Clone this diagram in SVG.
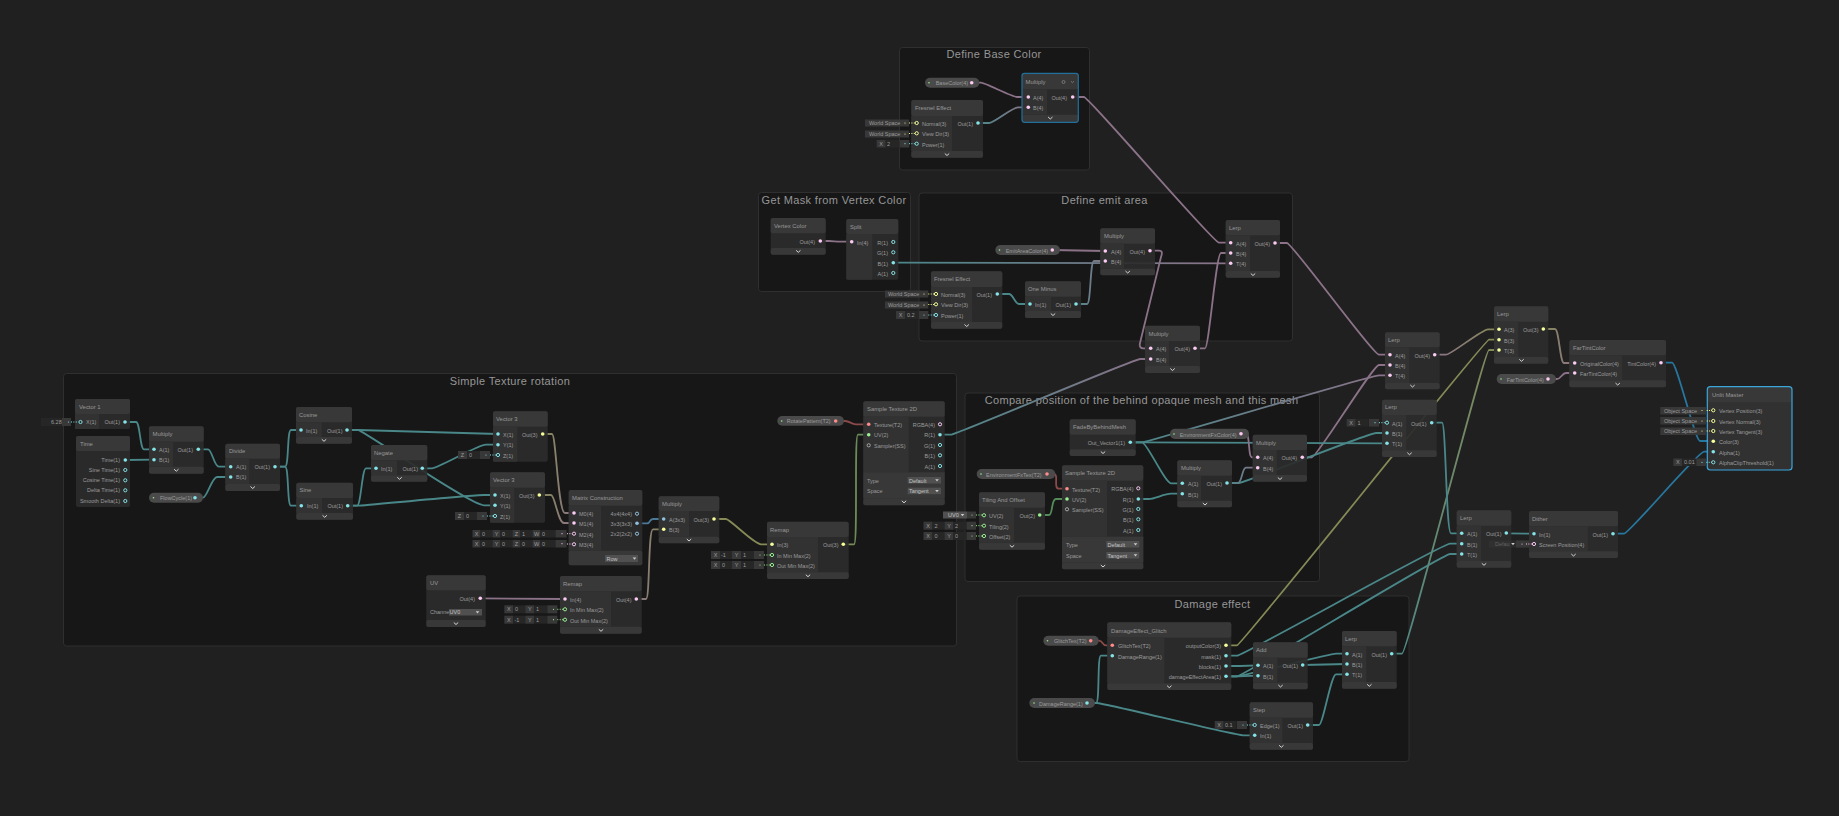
<svg xmlns="http://www.w3.org/2000/svg" width="1839" height="816" viewBox="0 0 1839 816">
<defs>
<style>
text{font-family:"Liberation Sans",Arial,sans-serif;font-size:5.5px;fill:#9c9c9c}
.r{text-anchor:end}
.c{text-anchor:middle}
.ti{font-size:5.9px;fill:#999}
.gt{font-size:11px;fill:#969696;text-anchor:middle;letter-spacing:.35px}
.wh{fill:#c4c4c4}
.grp{fill:#171717;stroke:#2f2f2f;stroke-width:1}
.b{fill:#2c2c2c;fill-opacity:.93}
.h{fill:#393939;fill-opacity:.93}
.i{fill:#333;fill-opacity:.93}
.f{fill:#393939;fill-opacity:.93}
.sel{fill:none;stroke:#236f9c;stroke-width:1.2}
.sel2{fill:none;stroke:#3ba6dc;stroke-width:1.2}
.pill{fill:#4a4a4a}
.k{fill:#383838}
.d{fill:#262626}
.dd{fill:#505050}
.e{fill:none;stroke-width:1.8;stroke-linejoin:round;stroke-linecap:round}
.te{stroke:#4a8789}.pk{stroke:#8b7288}.ol{stroke:#868a56}.gr{stroke:#558b5a}.rd{stroke:#8a4a4a}.bl{stroke:#4a7a98}.sb{stroke:#27779f}
.tp{stroke:url(#gtp)}.op{stroke:url(#gop)}.po{stroke:url(#gpo)}.og{stroke:url(#gog)}.to{stroke:url(#gto)}
.p1{fill:#84e4e7}.p2{fill:#9aef92}.p3{fill:#f6ff9a}.p4{fill:#fbcbf4}.pm{fill:#8fc1df}.pt{fill:#ff8b8b}
.q1,.q2,.q3,.q4,.qm,.qs{fill:#2a2a2a;stroke-width:1}
.q1{stroke:#84e4e7}.q2{stroke:#9aef92}.q3{stroke:#f6ff9a}.q4{stroke:#fbcbf4}.qm{stroke:#8fc1df}.qs{stroke:#aaa}
.dt{fill:none;stroke-width:1;stroke-dasharray:1 1.4}
.d1{stroke:#84e4e7}.d2{stroke:#9aef92}.d3{stroke:#f6ff9a}.d4{stroke:#fbcbf4}
.chev{fill:none;stroke:#d8d8d8;stroke-width:1}
</style>
<linearGradient id="gtp"><stop offset="0" stop-color="#4a8789"/><stop offset="1" stop-color="#8b7288"/></linearGradient>
<linearGradient id="gop"><stop offset="0" stop-color="#868a56"/><stop offset="1" stop-color="#8b7288"/></linearGradient>
<linearGradient id="gpo"><stop offset="0" stop-color="#8b7288"/><stop offset="1" stop-color="#868a56"/></linearGradient>
<linearGradient id="gog"><stop offset="0" stop-color="#868a56"/><stop offset="1" stop-color="#558b5a"/></linearGradient>
<linearGradient id="gto"><stop offset="0" stop-color="#4a8789"/><stop offset="1" stop-color="#868a56"/></linearGradient>
<path id="ch" class="chev" d="M-2.2-1 0 1 2.2-1"/>
<path id="tri" d="M-1.8-1H1.8L0 1.2Z" fill="#ccc"/>
</defs>
<rect width="1839" height="816" fill="#202020"/>
<g id="groups">
<g id="g-rotation"><rect class="grp" x="63.5" y="373.5" width="893" height="272.5" rx="3"/><text class="gt" x="510" y="384.5">Simple Texture rotation</text></g>
<g id="g-base"><rect class="grp" x="899.5" y="47.5" width="190" height="122.5" rx="3"/><text class="gt" x="994" y="58">Define Base Color</text></g>
<g id="g-mask"><rect class="grp" x="758.5" y="192.5" width="152" height="99" rx="3"/><text class="gt" x="834" y="203.5">Get Mask from Vertex Color</text></g>
<g id="g-emit"><rect class="grp" x="919" y="193" width="373.5" height="148" rx="3"/><text class="gt" x="1104.5" y="204">Define emit area</text></g>
<g id="g-compare"><rect class="grp" x="965" y="393" width="354.5" height="188.5" rx="3"/><text class="gt" x="1141.5" y="403.5">Compare position of the behind opaque mesh and this mesh</text></g>
<g id="g-damage"><rect class="grp" x="1017" y="596" width="392" height="165.5" rx="3"/><text class="gt" x="1212.5" y="608">Damage effect</text></g>
</g>
<g id="connectors">
<path class="e te" d="M125 422H136C140 422 140 449.3 144 449.3H154"/>
<path class="e te" d="M125.3 460L154 459.7"/>
<path class="e te" d="M198.3 449.3H208C212 449.3 214 466.7 219 466.7H230.7"/>
<path class="e te" d="M195 497.7H203C207 497.7 212 477 217 477H230.7"/>
<path class="e te" d="M275 466.7H285C289 466.7 287 430 291 430H301"/>
<path class="e te" d="M275 466.7H285C289 466.7 287 505.7 291 505.7H301.3"/>
<path class="e te" d="M347 430H358C363 430 400 431 498 434"/>
<path class="e te" d="M347 430H358C363 430 470 505.3 484 505.3H495"/>
<path class="e te" d="M347.7 505.7H357C361 505.7 362 468.3 366 468.3H376"/>
<path class="e te" d="M347.7 505.7H358C364 505.7 470 495 484 495H495"/>
<path class="e te" d="M422.3 468.3H432C438 468.3 478 444.7 486 444.7H498"/>
<path class="e op" d="M542.7 434H552C556 434 558 513 565 513H574"/>
<path class="e op" d="M539.3 495H551C555 495 558 523 564 523H574"/>
<path class="e bl" d="M637 523.3H647C651 523.3 649 519 653 519H663.7"/>
<path class="e pk" d="M480.3 598.3L565 599"/>
<path class="e po" d="M636.3 599H646C650 599 648 529.3 653 529.3H663.7"/>
<path class="e ol" d="M714 519H726C730 519 754 544.3 761 544.3H772"/>
<path class="e og" d="M843.3 544.3H854C858 544.3 854 434.7 858 434.7H868.7"/>
<path class="e rd" d="M835.7 421H845C850 421 851 424.3 856 424.3H868.7"/>
<path class="e tp" d="M940 434.7H951C956 434.7 1134 359 1140 359H1150.7"/>
<path class="e pk" d="M1150 250.7H1159C1163 250.7 1162 254 1161 257L1140 343C1139 347 1141 348.3 1143 348.3H1150.7"/>
<path class="e pk" d="M1195 348.3H1205C1209 348.3 1216 253 1221 253H1230.7"/>
<path class="e tp" d="M893.3 262.7L1230.7 263.3"/>
<path class="e te" d="M997.3 294H1009C1013 294 1015 304 1019 304H1030"/>
<path class="e tp" d="M1076 304H1087C1091 304 1090 261 1094 261H1105.3"/>
<path class="e pk" d="M1052.3 250L1105.3 251"/>
<path class="e pk" d="M971.7 82.7H981C985 82.7 1012 97 1017 97H1028.3"/>
<path class="e tp" d="M978 123H989C994 123 1012 107.3 1018 107.3H1028.3"/>
<path class="e pk" d="M1072.7 97H1084C1089 97 1213 242.7 1219 242.7H1230.7"/>
<path class="e pk" d="M820.3 241H829C833 241 836 241.7 841 241.7H851.7"/>
<path class="e pk" d="M1275 243H1287C1292 243 1373 354.7 1379 354.7H1390"/>
<path class="e pk" d="M1302.3 457.3H1312C1317 457.3 1373 365 1379 365H1390"/>
<path class="e tp" d="M1130.3 442.3H1142C1148 442.3 1370 375.3 1379 375.3H1390"/>
<path class="e te" d="M1130.3 442.3H1142L1387 443.3"/>
<path class="e te" d="M1130.3 442.3H1142C1147 442.3 1165 483.3 1171 483.3H1182.3"/>
<path class="e te" d="M1227 483H1239C1245 483 1368 433 1376 433H1387"/>
<path class="e tp" d="M1227 483H1238C1242 483 1242 467.7 1246 467.7H1257.7"/>
<path class="e te" d="M1138.3 499H1149C1154 499 1165 493.7 1171 493.7H1182.3"/>
<path class="e pk" d="M1241 433.7H1246C1250 433.7 1248 457.3 1252 457.3H1257.7"/>
<path class="e rd" d="M1047 474H1054C1059 474 1053 488.7 1059 488.7H1067"/>
<path class="e gr" d="M1039.7 515H1049C1053 515 1051 499 1056 499H1067"/>
<path class="e rd" d="M1090.7 640.7H1099C1103 640.7 1102 645.3 1106 645.3H1112.3"/>
<path class="e te" d="M1087 703H1096C1100 703 1097 655.7 1101 655.7H1112.3"/>
<path class="e te" d="M1087 703H1097C1103 703 1235 735.3 1243 735.3H1254.7"/>
<path class="e ol" d="M1226 645.3H1237C1242 645.3 1484 339.7 1489 339.7H1499"/>
<path class="e te" d="M1226 655.7H1237C1243 655.7 1442 543.7 1450 543.7H1461.7"/>
<path class="e te" d="M1226 676.3H1237C1243 676.3 1442 554 1450 554H1461.7"/>
<path class="e te" d="M1226 666H1240L1258 665.3"/>
<path class="e te" d="M1226 676.3H1238L1258 675.7"/>
<path class="e te" d="M1226 676.3H1237C1242 676.3 1330 653.7 1336 653.7H1347"/>
<path class="e te" d="M1302.7 665L1347 664"/>
<path class="e te" d="M1307.7 725H1319C1323 725 1331 674.3 1336 674.3H1347"/>
<path class="e to" d="M1391.7 653.7H1402C1407 653.7 1484 350 1489 350H1499"/>
<path class="e po" d="M1434.7 354.7H1446C1451 354.7 1482 329.3 1488 329.3H1499"/>
<path class="e op" d="M1543.3 329H1555C1559 329 1560 363 1564 363H1574.7"/>
<path class="e pk" d="M1548 379H1557C1561 379 1562 373 1566 373H1574.7"/>
<path class="e sb" d="M1661 362.7H1672C1677 362.7 1695 441 1700 441H1713.3"/>
<path class="e sb" d="M1613 533.7H1624C1629 533.7 1698 451.7 1704 451.7H1713.3"/>
<path class="e te" d="M1431.7 422.7H1442C1446 422.7 1446 533.3 1451 533.3H1461.7"/>
<path class="e te" d="M1506.3 533.3L1534 533.7"/>
</g>
<g id="nodes">
<g id="vector1"><rect class="b" x="75" y="399" width="55" height="30" rx="2"/><rect class="h" x="75" y="399" width="55" height="15" rx="2"/><rect class="i" x="75" y="414" width="24" height="15"/><text class="ti" x="79" y="408.5">Vector 1</text><circle class="q1" cx="80.5" cy="422" r="1.6"/><text x="86" y="424">X(1)</text><text class="r" x="120" y="424">Out(1)</text><circle class="p1" cx="125" cy="422" r="1.8"/>
<rect class="d" x="41" y="418" width="21" height="8"/><text x="51" y="424">6.28</text><rect class="k" x="62" y="418" width="9" height="8"/><circle class="p1" cx="68.5" cy="422" r=".6"/><path class="dt d1" d="M71 422H78"/></g>
<g id="time"><rect class="b" x="76" y="436" width="54" height="71" rx="2"/><rect class="h" x="76" y="436" width="54" height="15" rx="2"/><text class="ti" x="80" y="445.5">Time</text>
<text class="r" x="120" y="462">Time(1)</text><circle class="p1" cx="125.3" cy="460" r="1.8"/><text class="r" x="120" y="472">Sine Time(1)</text><circle class="q1" cx="125.3" cy="470" r="1.6"/><text class="r" x="120" y="482.3">Cosine Time(1)</text><circle class="q1" cx="125.3" cy="480.3" r="1.6"/><text class="r" x="120" y="492.3">Delta Time(1)</text><circle class="q1" cx="125.3" cy="490.3" r="1.6"/><text class="r" x="120" y="503">Smooth Delta(1)</text><circle class="q1" cx="125.3" cy="501" r="1.6"/></g>
<g id="multiply1"><rect class="b" x="149" y="426.3" width="54.7" height="47.4" rx="2"/><rect class="h" x="149" y="426.3" width="54.7" height="15.4" rx="2"/><rect class="i" x="149" y="441.7" width="24" height="25"/><rect class="f" x="149" y="466.7" width="54.7" height="7" rx="2"/><text class="ti" x="152.5" y="436">Multiply</text><circle class="p1" cx="154" cy="449.3" r="1.8"/><text x="159" y="451.5">A(1)</text><circle class="p1" cx="154" cy="459.7" r="1.8"/><text x="159" y="461.8">B(1)</text><text class="r" x="193" y="451.5">Out(1)</text><circle class="p1" cx="198.3" cy="449.3" r="1.8"/><use href="#ch" x="176.3" y="470.2"/></g>
<g id="flowcycle"><rect class="pill" x="149" y="492.7" width="54" height="10" rx="5"/><circle class="p2" cx="153.5" cy="497.7" r=".8"/><text x="160" y="499.8">FlowCycle(1)</text><circle class="p1" cx="195" cy="497.7" r="1.8"/></g>
<g id="divide"><rect class="b" x="225.3" y="443.7" width="54.7" height="47.3" rx="2"/><rect class="h" x="225.3" y="443.7" width="54.7" height="15" rx="2"/><rect class="i" x="225.3" y="458.7" width="24" height="25.3"/><rect class="f" x="225.3" y="484" width="54.7" height="7" rx="2"/><text class="ti" x="229" y="453">Divide</text><circle class="p1" cx="230.7" cy="466.7" r="1.8"/><text x="236" y="469">A(1)</text><circle class="p1" cx="230.7" cy="477" r="1.8"/><text x="236" y="479">B(1)</text><text class="r" x="270" y="469">Out(1)</text><circle class="p1" cx="275" cy="466.7" r="1.8"/><use href="#ch" x="252.7" y="487.5"/></g>
<g id="cosine"><rect class="b" x="296" y="407" width="56" height="36.7" rx="2"/><rect class="h" x="296" y="407" width="56" height="15.3" rx="2"/><rect class="i" x="296" y="422.3" width="25.7" height="14.7"/><rect class="f" x="296" y="437" width="56" height="6.7" rx="2"/><text class="ti" x="299" y="417">Cosine</text><circle class="p1" cx="301" cy="430" r="1.8"/><text x="306" y="433">In(1)</text><text class="r" x="342.5" y="433">Out(1)</text><circle class="p1" cx="347" cy="430" r="1.8"/><use href="#ch" x="324" y="440.3"/></g>
<g id="sine"><rect class="b" x="296.3" y="482.7" width="56.7" height="37" rx="2"/><rect class="h" x="296.3" y="482.7" width="56.7" height="15.3" rx="2"/><rect class="i" x="296.3" y="498" width="25.7" height="15"/><rect class="f" x="296.3" y="513" width="56.7" height="6.7" rx="2"/><text class="ti" x="299.5" y="492">Sine</text><circle class="p1" cx="301.3" cy="505.7" r="1.8"/><text x="307" y="508">In(1)</text><text class="r" x="343" y="508">Out(1)</text><circle class="p1" cx="347.7" cy="505.7" r="1.8"/><use href="#ch" x="324.7" y="516.3"/></g>
<g id="negate"><rect class="b" x="371" y="445" width="56.3" height="36.7" rx="2"/><rect class="h" x="371" y="445" width="56.3" height="15.3" rx="2"/><rect class="i" x="371" y="460.3" width="26" height="15"/><rect class="f" x="371" y="475.3" width="56.3" height="6.4" rx="2"/><text class="ti" x="374" y="455">Negate</text><circle class="p1" cx="376" cy="468.3" r="1.8"/><text x="381" y="471">In(1)</text><text class="r" x="418" y="471">Out(1)</text><circle class="p1" cx="422.3" cy="468.3" r="1.8"/><use href="#ch" x="399.5" y="478.3"/></g>
<g id="vector3a"><rect class="b" x="493" y="411.3" width="54.7" height="50.4" rx="2"/><rect class="h" x="493" y="411.3" width="54.7" height="15.4" rx="2"/><rect class="i" x="493" y="426.7" width="24.3" height="35" rx="1"/><text class="ti" x="496" y="421">Vector 3</text><circle class="p1" cx="498" cy="434" r="1.8"/><text x="503" y="437">X(1)</text><circle class="p1" cx="498" cy="444.7" r="1.8"/><text x="503" y="447">Y(1)</text><circle class="q1" cx="498" cy="455" r="1.6"/><text x="503" y="458">Z(1)</text><text class="r" x="537.5" y="437">Out(3)</text><circle class="p3" cx="542.7" cy="434" r="1.8"/>
<rect class="k" x="458" y="451" width="9" height="8"/><text class="c" x="462.5" y="457">Z</text><rect class="d" x="467" y="451" width="13" height="8"/><text x="469" y="457">0</text><rect class="k" x="480" y="451" width="10" height="8"/><circle class="p1" cx="486" cy="455" r=".6"/><path class="dt d1" d="M490 455H496"/></g>
<g id="vector3b"><rect class="b" x="490" y="472.3" width="55" height="50.4" rx="2"/><rect class="h" x="490" y="472.3" width="55" height="15.4" rx="2"/><rect class="i" x="490" y="487.7" width="24.3" height="35" rx="1"/><text class="ti" x="493" y="482">Vector 3</text><circle class="p1" cx="495" cy="495" r="1.8"/><text x="500" y="498">X(1)</text><circle class="p1" cx="495" cy="505.3" r="1.8"/><text x="500" y="508">Y(1)</text><circle class="q1" cx="495" cy="516" r="1.6"/><text x="500" y="519">Z(1)</text><text class="r" x="534.5" y="498">Out(3)</text><circle class="p3" cx="539.3" cy="495" r="1.8"/>
<rect class="k" x="455" y="512" width="9" height="8"/><text class="c" x="459.5" y="518">Z</text><rect class="d" x="464" y="512" width="13" height="8"/><text x="466" y="518">0</text><rect class="k" x="477" y="512" width="10" height="8"/><circle class="p1" cx="483" cy="516" r=".6"/><path class="dt d1" d="M487 516H493"/></g>
<g id="matrix"><rect class="b" x="568.7" y="490" width="73.6" height="75.3" rx="2"/><rect class="h" x="568.7" y="490" width="73.6" height="15.7" rx="2"/><rect class="i" x="568.7" y="505.7" width="32.3" height="45"/><rect class="f" x="568.7" y="550.7" width="73.6" height="14.6" rx="2"/><text class="ti" x="572" y="500">Matrix Construction</text>
<circle class="p4" cx="574" cy="513" r="1.8"/><text x="579" y="516">M0(4)</text><circle class="p4" cx="574" cy="523" r="1.8"/><text x="579" y="526">M1(4)</text><circle class="q4" cx="574" cy="533.7" r="1.6"/><text x="579" y="536.5">M2(4)</text><circle class="q4" cx="574" cy="544.3" r="1.6"/><text x="579" y="547">M3(4)</text>
<text class="r" x="632" y="516">4x4(4x4)</text><circle class="qm" cx="637" cy="513.7" r="1.6"/><text class="r" x="632" y="526">3x3(3x3)</text><circle class="pm" cx="637" cy="523.3" r="1.8"/><text class="r" x="632" y="536">2x2(2x2)</text><circle class="qm" cx="637" cy="533.7" r="1.6"/>
<rect class="dd" x="605" y="555" width="33" height="7"/><text class="wh" x="606.5" y="560.5">Row</text><use href="#tri" x="634.5" y="558.5"/>
<g id="m2-inputs"><rect class="k" x="472.5" y="530" width="8" height="7.5"/><text class="c" x="476.5" y="535.8">X</text><rect class="d" x="480.5" y="530" width="12" height="7.5"/><text x="482" y="535.8">0</text><rect class="k" x="492.5" y="530" width="8" height="7.5"/><text class="c" x="496.5" y="535.8">Y</text><rect class="d" x="500.5" y="530" width="12" height="7.5"/><text x="502" y="535.8">0</text><rect class="k" x="512.5" y="530" width="8" height="7.5"/><text class="c" x="516.5" y="535.8">Z</text><rect class="d" x="520.5" y="530" width="12" height="7.5"/><text x="522" y="535.8">1</text><rect class="k" x="532.5" y="530" width="8" height="7.5"/><text class="c" x="536.5" y="535.8">W</text><rect class="d" x="540.5" y="530" width="15" height="7.5"/><text x="542" y="535.8">0</text><rect class="k" x="555.5" y="530" width="11" height="7.5"/><circle class="p4" cx="562" cy="533.7" r=".6"/><path class="dt d4" d="M567 533.7H572"/></g>
<g id="m3-inputs"><rect class="k" x="472.5" y="540" width="8" height="7.5"/><text class="c" x="476.5" y="545.8">X</text><rect class="d" x="480.5" y="540" width="12" height="7.5"/><text x="482" y="545.8">0</text><rect class="k" x="492.5" y="540" width="8" height="7.5"/><text class="c" x="496.5" y="545.8">Y</text><rect class="d" x="500.5" y="540" width="12" height="7.5"/><text x="502" y="545.8">0</text><rect class="k" x="512.5" y="540" width="8" height="7.5"/><text class="c" x="516.5" y="545.8">Z</text><rect class="d" x="520.5" y="540" width="12" height="7.5"/><text x="522" y="545.8">0</text><rect class="k" x="532.5" y="540" width="8" height="7.5"/><text class="c" x="536.5" y="545.8">W</text><rect class="d" x="540.5" y="540" width="15" height="7.5"/><text x="542" y="545.8">0</text><rect class="k" x="555.5" y="540" width="11" height="7.5"/><circle class="p4" cx="562" cy="543.7" r=".6"/><path class="dt d4" d="M567 544H572"/></g></g>
<g id="multiply2"><rect class="b" x="658.7" y="496.3" width="60.6" height="47" rx="2"/><rect class="h" x="658.7" y="496.3" width="60.6" height="14.7" rx="2"/><rect class="i" x="658.7" y="511" width="30.3" height="25.7"/><rect class="f" x="658.7" y="536.7" width="60.6" height="6.6" rx="2"/><text class="ti" x="662" y="506">Multiply</text><circle class="pm" cx="663.7" cy="519" r="1.8"/><text x="669" y="522">A(3x3)</text><circle class="p3" cx="663.7" cy="529.3" r="1.8"/><text x="669" y="532">B(3)</text><text class="r" x="709" y="522">Out(3)</text><circle class="p3" cx="714" cy="519" r="1.8"/><use href="#ch" x="689" y="540"/></g>
<g id="remap2"><rect class="b" x="767" y="521.7" width="81.7" height="57.3" rx="2"/><rect class="h" x="767" y="521.7" width="81.7" height="15.3" rx="2"/><rect class="i" x="767" y="537" width="51" height="35.3"/><rect class="f" x="767" y="572.3" width="81.7" height="6.7" rx="2"/><text class="ti" x="770" y="531.5">Remap</text><circle class="p3" cx="772" cy="544.3" r="1.8"/><text x="777" y="547">In(3)</text><circle class="q2" cx="772" cy="555" r="1.6"/><text x="777" y="557.8">In Min Max(2)</text><circle class="q2" cx="772" cy="565" r="1.6"/><text x="777" y="568">Out Min Max(2)</text><text class="r" x="838.5" y="547">Out(3)</text><circle class="p3" cx="843.3" cy="544.3" r="1.8"/><use href="#ch" x="808" y="575.7"/>
<rect class="k" x="711" y="551" width="9" height="8"/><text class="c" x="715.5" y="557">X</text><rect class="d" x="720" y="551" width="12" height="8"/><text x="721" y="557">-1</text><rect class="k" x="732" y="551" width="9" height="8"/><text class="c" x="736.5" y="557">Y</text><rect class="d" x="741" y="551" width="13" height="8"/><text x="743" y="557">1</text><rect class="k" x="754" y="551" width="10" height="8"/><circle class="p2" cx="760" cy="555" r=".6"/><path class="dt d2" d="M764 555H770"/>
<rect class="k" x="711" y="561" width="9" height="8"/><text class="c" x="715.5" y="567">X</text><rect class="d" x="720" y="561" width="12" height="8"/><text x="722" y="567">0</text><rect class="k" x="732" y="561" width="9" height="8"/><text class="c" x="736.5" y="567">Y</text><rect class="d" x="741" y="561" width="13" height="8"/><text x="743" y="567">1</text><rect class="k" x="754" y="561" width="10" height="8"/><circle class="p2" cx="760" cy="565" r=".6"/><path class="dt d2" d="M764 565H770"/></g>
<g id="uv"><rect class="b" x="426.3" y="575.3" width="59.4" height="51.7" rx="2"/><rect class="h" x="426.3" y="575.3" width="59.4" height="15" rx="2"/><rect class="f" x="426.3" y="620" width="59.4" height="7" rx="2"/><text class="ti" x="430" y="585">UV</text><text class="r" x="475" y="601">Out(4)</text><circle class="p4" cx="480.3" cy="598.3" r="1.8"/><text x="430" y="614.3">Channel</text><rect class="dd" x="449" y="609" width="33" height="6.5"/><text class="wh" x="449.5" y="614.3">UV0</text><use href="#tri" x="477.5" y="612.3"/><use href="#ch" x="456" y="623.5"/></g>
<g id="remap1"><rect class="b" x="560" y="576" width="81.7" height="57.7" rx="2"/><rect class="h" x="560" y="576" width="81.7" height="15.3" rx="2"/><rect class="i" x="560" y="591.3" width="51" height="35.4"/><rect class="f" x="560" y="626.7" width="81.7" height="7" rx="2"/><text class="ti" x="563" y="586">Remap</text><circle class="p4" cx="565" cy="599" r="1.8"/><text x="570" y="602">In(4)</text><circle class="q2" cx="565" cy="609.3" r="1.6"/><text x="570" y="612">In Min Max(2)</text><circle class="q2" cx="565" cy="619.7" r="1.6"/><text x="570" y="622.5">Out Min Max(2)</text><text class="r" x="631.5" y="602">Out(4)</text><circle class="p4" cx="636.3" cy="599" r="1.8"/><use href="#ch" x="601" y="630.3"/>
<rect class="k" x="504.3" y="605.3" width="9" height="8"/><text class="c" x="508.8" y="611.3">X</text><rect class="d" x="513.3" y="605.3" width="12" height="8"/><text x="515" y="611.3">0</text><rect class="k" x="525.3" y="605.3" width="9" height="8"/><text class="c" x="529.8" y="611.3">Y</text><rect class="d" x="534.3" y="605.3" width="13" height="8"/><text x="536" y="611.3">1</text><rect class="k" x="547.3" y="605.3" width="10" height="8"/><circle class="p2" cx="553.5" cy="609.3" r=".6"/><path class="dt d2" d="M557.3 609.3H563"/>
<rect class="k" x="504.3" y="615.7" width="9" height="8"/><text class="c" x="508.8" y="621.7">X</text><rect class="d" x="513.3" y="615.7" width="12" height="8"/><text x="514.5" y="621.7">-1</text><rect class="k" x="525.3" y="615.7" width="9" height="8"/><text class="c" x="529.8" y="621.7">Y</text><rect class="d" x="534.3" y="615.7" width="13" height="8"/><text x="536" y="621.7">1</text><rect class="k" x="547.3" y="615.7" width="10" height="8"/><circle class="p2" cx="553.5" cy="619.7" r=".6"/><path class="dt d2" d="M557.3 619.7H563"/></g>
<g id="rotatepattern"><rect class="pill" x="777.3" y="416" width="66.7" height="9.7" rx="4.8"/><circle class="p2" cx="781.7" cy="421" r=".8"/><text x="786.7" y="423.2">RotatePattern(T2)</text><circle class="pt" cx="835.7" cy="421" r="1.8"/></g>
<g id="sample1"><rect class="b" x="863.3" y="401.3" width="81.4" height="104" rx="2"/><rect class="h" x="863.3" y="401.3" width="81.4" height="15.4" rx="2"/><rect class="i" x="863.3" y="416.7" width="45.4" height="55.6"/><rect class="h" x="863.3" y="472.3" width="81.4" height="26"/><rect class="f" x="863.3" y="498.3" width="81.4" height="7" rx="2"/><text class="ti" x="867" y="411">Sample Texture 2D</text>
<circle class="pt" cx="868.7" cy="424.3" r="1.8"/><text x="874" y="427">Texture(T2)</text><circle class="p2" cx="868.7" cy="434.7" r="1.8"/><text x="874" y="437">UV(2)</text><circle class="qs" cx="868.7" cy="445.3" r="1.6"/><text x="874" y="448">Sampler(SS)</text>
<text class="r" x="935" y="427">RGBA(4)</text><circle class="q4" cx="940" cy="424.3" r="1.6"/><text class="r" x="935" y="437">R(1)</text><circle class="p1" cx="940" cy="434.7" r="1.8"/><text class="r" x="935" y="448">G(1)</text><circle class="q1" cx="940" cy="445" r="1.6"/><text class="r" x="935" y="458">B(1)</text><circle class="q1" cx="940" cy="455.3" r="1.6"/><text class="r" x="935" y="469">A(1)</text><circle class="q1" cx="940" cy="466" r="1.6"/>
<text x="867" y="482.5">Type</text><rect class="dd" x="907.7" y="477" width="33.3" height="6.5"/><text class="wh" x="909" y="482.5">Default</text><use href="#tri" x="937" y="480.3"/><text x="867" y="493">Space</text><rect class="dd" x="907.7" y="487.7" width="33.3" height="6.5"/><text class="wh" x="909" y="493">Tangent</text><use href="#tri" x="937" y="491"/><use href="#ch" x="904" y="501.8"/></g>
<g id="basecolor"><rect class="pill" x="925" y="77.7" width="54.3" height="10" rx="5"/><circle class="p2" cx="929" cy="82.7" r=".8"/><text x="935.7" y="85">BaseColor(4)</text><circle class="p4" cx="971.7" cy="82.7" r="1.8"/></g>
<g id="multiply-base"><rect class="b" x="1022" y="73.3" width="56.3" height="49" rx="2"/><rect class="h" x="1022" y="73.3" width="56.3" height="16" rx="2"/><rect class="i" x="1022" y="89.3" width="25" height="25.4"/><rect class="f" x="1022" y="114.7" width="56.3" height="7.6" rx="2"/><text class="ti" x="1025.5" y="84">Multiply</text><circle cx="1063.5" cy="82" r="1.5" fill="none" stroke="#777"/><path d="M1071 81.3l1.5 1.4 1.5-1.4" fill="none" stroke="#777"/><circle class="p4" cx="1028.3" cy="97" r="1.8"/><text x="1033" y="100">A(4)</text><circle class="p4" cx="1028.3" cy="107.3" r="1.8"/><text x="1033" y="110">B(4)</text><text class="r" x="1067" y="100">Out(4)</text><circle class="p4" cx="1072.7" cy="97" r="1.8"/><use href="#ch" x="1050.3" y="118"/><rect class="sel" x="1022" y="73.3" width="56.3" height="49" rx="2.5"/></g>
<g id="fresnel1"><rect class="b" x="911.3" y="100" width="71.7" height="57.7" rx="2"/><rect class="h" x="911.3" y="100" width="71.7" height="16" rx="2"/><rect class="i" x="911.3" y="116" width="40.7" height="35"/><rect class="f" x="911.3" y="151" width="71.7" height="6.7" rx="2"/><text class="ti" x="915" y="110">Fresnel Effect</text><circle class="q3" cx="916.7" cy="123" r="1.6"/><text x="922" y="126">Normal(3)</text><circle class="q3" cx="916.7" cy="133.3" r="1.6"/><text x="922" y="136">View Dir(3)</text><circle class="q1" cx="916.7" cy="143.7" r="1.6"/><text x="922" y="146.5">Power(1)</text><text class="r" x="973" y="126">Out(1)</text><circle class="p1" cx="978" cy="123" r="1.8"/><use href="#ch" x="947" y="154.5"/>
<rect class="k" x="865" y="119.5" width="44" height="7"/><text x="869" y="125">World Space</text><circle class="p3" cx="905" cy="123" r=".6"/><path class="dt d3" d="M909 123H915"/><rect class="k" x="865" y="130.5" width="44" height="7"/><text x="869" y="136">World Space</text><circle class="p3" cx="905" cy="134" r=".6"/><path class="dt d3" d="M909 133.5H915"/><rect class="k" x="876.7" y="140" width="9" height="7.5"/><text class="c" x="881.2" y="146">X</text><rect class="d" x="885.7" y="140" width="14" height="7.5"/><text x="887" y="146">2</text><rect class="k" x="899.7" y="140" width="9.5" height="7.5"/><circle class="p1" cx="905" cy="143.7" r=".6"/><path class="dt d1" d="M909 143.7H915"/></g>
<g id="vertexcolor"><rect class="b" x="770.7" y="218" width="55" height="36.7" rx="2"/><rect class="h" x="770.7" y="218" width="55" height="15.3" rx="2"/><rect class="f" x="770.7" y="248" width="55" height="6.7" rx="2"/><text class="ti" x="774" y="228">Vertex Color</text><text class="r" x="815" y="244">Out(4)</text><circle class="p4" cx="820.3" cy="241" r="1.8"/><use href="#ch" x="798.3" y="251.3"/></g>
<g id="split"><rect class="b" x="846.3" y="219" width="52" height="60.7" rx="2"/><rect class="h" x="846.3" y="219" width="52" height="15" rx="2"/><rect class="i" x="846.3" y="234" width="26" height="45.7" rx="1"/><text class="ti" x="850" y="229">Split</text><circle class="p4" cx="851.7" cy="241.7" r="1.8"/><text x="857" y="245">In(4)</text><text class="r" x="888" y="245">R(1)</text><circle class="q1" cx="893.3" cy="242" r="1.6"/><text class="r" x="888" y="255">G(1)</text><circle class="q1" cx="893.3" cy="252.3" r="1.6"/><text class="r" x="888" y="265.5">B(1)</text><circle class="p1" cx="893.3" cy="262.7" r="1.8"/><text class="r" x="888" y="276">A(1)</text><circle class="q1" cx="893.3" cy="273" r="1.6"/></g>
<g id="emitcolor"><rect class="pill" x="995.3" y="245" width="64.7" height="10" rx="5"/><circle class="p2" cx="999.5" cy="250" r=".8"/><text x="1005.7" y="253">EmitAreaColor(4)</text><circle class="p4" cx="1052.3" cy="250" r="1.8"/></g>
<g id="multiply-emit"><rect class="b" x="1100.3" y="228.3" width="54.7" height="47" rx="2"/><rect class="h" x="1100.3" y="228.3" width="54.7" height="15.4" rx="2"/><rect class="i" x="1100.3" y="243.7" width="23.7" height="25"/><rect class="f" x="1100.3" y="268.7" width="54.7" height="6.6" rx="2"/><text class="ti" x="1104" y="238">Multiply</text><circle class="p4" cx="1105.3" cy="251" r="1.8"/><text x="1111" y="254">A(4)</text><circle class="p4" cx="1105.3" cy="261" r="1.8"/><text x="1111" y="264">B(4)</text><text class="r" x="1145" y="254">Out(4)</text><circle class="p4" cx="1150" cy="250.7" r="1.8"/><use href="#ch" x="1127.7" y="272"/></g>
<g id="fresnel2"><rect class="b" x="931" y="271.3" width="71.3" height="57.4" rx="2"/><rect class="h" x="931" y="271.3" width="71.3" height="15.7" rx="2"/><rect class="i" x="931" y="287" width="41" height="35"/><rect class="f" x="931" y="322" width="71.3" height="6.7" rx="2"/><text class="ti" x="934" y="281">Fresnel Effect</text><circle class="q3" cx="936" cy="294" r="1.6"/><text x="941" y="297">Normal(3)</text><circle class="q3" cx="936" cy="304.3" r="1.6"/><text x="941" y="307">View Dir(3)</text><circle class="q1" cx="936" cy="315" r="1.6"/><text x="941" y="318">Power(1)</text><text class="r" x="992" y="297">Out(1)</text><circle class="p1" cx="997.3" cy="294" r="1.8"/><use href="#ch" x="966.7" y="325.5"/>
<rect class="k" x="885" y="290.5" width="43.3" height="7"/><text x="888" y="296">World Space</text><circle class="p3" cx="924" cy="294" r=".6"/><path class="dt d3" d="M928.3 294H934"/><rect class="k" x="885" y="301.5" width="43.3" height="7"/><text x="888" y="307">World Space</text><circle class="p3" cx="924" cy="305" r=".6"/><path class="dt d3" d="M928.3 304.5H934"/><rect class="k" x="896" y="311" width="9" height="8"/><text class="c" x="900.5" y="317">X</text><rect class="d" x="905" y="311" width="14" height="8"/><text x="907" y="317">0.2</text><rect class="k" x="919" y="311" width="9.3" height="8"/><circle class="p1" cx="924" cy="315" r=".6"/><path class="dt d1" d="M928.3 315H934"/></g>
<g id="oneminus"><rect class="b" x="1025" y="281.3" width="56" height="36.7" rx="2"/><rect class="h" x="1025" y="281.3" width="56" height="15.4" rx="2"/><rect class="i" x="1025" y="296.7" width="26" height="14.3"/><rect class="f" x="1025" y="311" width="56" height="7" rx="2"/><text class="ti" x="1028" y="291">One Minus</text><circle class="p1" cx="1030" cy="304" r="1.8"/><text x="1035" y="307">In(1)</text><text class="r" x="1071" y="307">Out(1)</text><circle class="p1" cx="1076" cy="304" r="1.8"/><use href="#ch" x="1053" y="314.5"/></g>
<g id="lerp-emit"><rect class="b" x="1225.7" y="220" width="54.3" height="57.7" rx="2"/><rect class="h" x="1225.7" y="220" width="54.3" height="15.3" rx="2"/><rect class="i" x="1225.7" y="235.3" width="24.3" height="35.7"/><rect class="f" x="1225.7" y="271" width="54.3" height="6.7" rx="2"/><text class="ti" x="1229" y="230">Lerp</text><circle class="p4" cx="1230.7" cy="242.7" r="1.8"/><text x="1236" y="245.5">A(4)</text><circle class="p4" cx="1230.7" cy="253" r="1.8"/><text x="1236" y="256">B(4)</text><circle class="p4" cx="1230.7" cy="263.3" r="1.8"/><text x="1236" y="266">T(4)</text><text class="r" x="1270" y="245.5">Out(4)</text><circle class="p4" cx="1275" cy="243" r="1.8"/><use href="#ch" x="1253" y="274.5"/></g>
<g id="multiply-mask"><rect class="b" x="1145" y="325.7" width="55" height="47.3" rx="2"/><rect class="h" x="1145" y="325.7" width="55" height="15.3" rx="2"/><rect class="i" x="1145" y="341" width="24" height="25"/><rect class="f" x="1145" y="366" width="55" height="7" rx="2"/><text class="ti" x="1148.5" y="335.5">Multiply</text><circle class="p4" cx="1150.7" cy="348.3" r="1.8"/><text x="1156" y="351">A(4)</text><circle class="p4" cx="1150.7" cy="359" r="1.8"/><text x="1156" y="361.5">B(4)</text><text class="r" x="1190" y="351">Out(4)</text><circle class="p4" cx="1195" cy="348.3" r="1.8"/><use href="#ch" x="1172.5" y="369.5"/></g>
<g id="fade"><rect class="b" x="1069.7" y="419.3" width="66" height="36.7" rx="2"/><rect class="h" x="1069.7" y="419.3" width="66" height="15.4" rx="2"/><rect class="f" x="1069.7" y="449.3" width="66" height="6.7" rx="2"/><text class="ti" x="1073" y="429">FadeByBehindMesh</text><text class="r" x="1125" y="445">Out_Vector1(1)</text><circle class="p1" cx="1130.3" cy="442.3" r="1.8"/><use href="#ch" x="1103" y="452.5"/></g>
<g id="envcolor"><rect class="pill" x="1170" y="428.7" width="79" height="10.3" rx="5"/><circle class="p2" cx="1174" cy="434" r=".8"/><text x="1179.7" y="436.5">EnvironmentFxColor(4)</text><circle class="p4" cx="1241" cy="433.7" r="1.8"/></g>
<g id="multiply-a"><rect class="b" x="1177.3" y="460.3" width="54.7" height="47" rx="2"/><rect class="h" x="1177.3" y="460.3" width="54.7" height="15.4" rx="2"/><rect class="i" x="1177.3" y="475.7" width="23.7" height="25"/><rect class="f" x="1177.3" y="500.7" width="54.7" height="6.6" rx="2"/><text class="ti" x="1181" y="470">Multiply</text><circle class="p1" cx="1182.3" cy="483.3" r="1.8"/><text x="1188" y="486">A(1)</text><circle class="p1" cx="1182.3" cy="493.7" r="1.8"/><text x="1188" y="496.5">B(1)</text><text class="r" x="1222" y="486">Out(1)</text><circle class="p1" cx="1227" cy="483" r="1.8"/><use href="#ch" x="1205" y="504"/></g>
<g id="multiply-b"><rect class="b" x="1252.7" y="434.7" width="54.3" height="47" rx="2"/><rect class="h" x="1252.7" y="434.7" width="54.3" height="15.3" rx="2"/><rect class="i" x="1252.7" y="450" width="24" height="25"/><rect class="f" x="1252.7" y="475" width="54.3" height="6.7" rx="2"/><text class="ti" x="1256" y="444.5">Multiply</text><circle class="p4" cx="1257.7" cy="457.3" r="1.8"/><text x="1263" y="460">A(4)</text><circle class="p4" cx="1257.7" cy="467.7" r="1.8"/><text x="1263" y="470.5">B(4)</text><text class="r" x="1297" y="460">Out(4)</text><circle class="p4" cx="1302.3" cy="457.3" r="1.8"/><use href="#ch" x="1280" y="478.5"/></g>
<g id="sample2"><rect class="b" x="1062" y="465.3" width="81.3" height="104" rx="2"/><rect class="h" x="1062" y="465.3" width="81.3" height="15.4" rx="2"/><rect class="i" x="1062" y="480.7" width="45" height="56"/><rect class="h" x="1062" y="536.7" width="81.3" height="26"/><rect class="f" x="1062" y="562.7" width="81.3" height="6.6" rx="2"/><text class="ti" x="1065" y="475">Sample Texture 2D</text>
<circle class="pt" cx="1067" cy="488.7" r="1.8"/><text x="1072" y="491.5">Texture(T2)</text><circle class="p2" cx="1067" cy="499" r="1.8"/><text x="1072" y="501.5">UV(2)</text><circle class="qs" cx="1067" cy="509.3" r="1.6"/><text x="1072" y="512">Sampler(SS)</text>
<text class="r" x="1133.5" y="491">RGBA(4)</text><circle class="q4" cx="1138.3" cy="488.3" r="1.6"/><text class="r" x="1133.5" y="501.5">R(1)</text><circle class="p1" cx="1138.3" cy="499" r="1.8"/><text class="r" x="1133.5" y="512">G(1)</text><circle class="q1" cx="1138.3" cy="509" r="1.6"/><text class="r" x="1133.5" y="522">B(1)</text><circle class="q1" cx="1138.3" cy="519.3" r="1.6"/><text class="r" x="1133.5" y="533">A(1)</text><circle class="q1" cx="1138.3" cy="530" r="1.6"/>
<text x="1066" y="546.5">Type</text><rect class="dd" x="1106.3" y="541" width="33" height="6.5"/><text class="wh" x="1107.5" y="546.5">Default</text><use href="#tri" x="1135.5" y="544.3"/><text x="1066" y="557.5">Space</text><rect class="dd" x="1106.3" y="552" width="33" height="6.5"/><text class="wh" x="1107.5" y="557.5">Tangent</text><use href="#tri" x="1135.5" y="555.3"/><use href="#ch" x="1103" y="566"/></g>
<g id="envtex"><rect class="pill" x="976.7" y="469" width="78.6" height="10" rx="5"/><circle class="p2" cx="981" cy="474" r=".8"/><text x="986" y="477">EnvironmentFxTex(T2)</text><circle class="pt" cx="1047" cy="474" r="1.8"/></g>
<g id="tiling"><rect class="b" x="979" y="492.3" width="66" height="57.4" rx="2"/><rect class="h" x="979" y="492.3" width="66" height="15.4" rx="2"/><rect class="i" x="979" y="507.7" width="35" height="35"/><rect class="f" x="979" y="542.7" width="66" height="7" rx="2"/><text class="ti" x="982" y="502">Tiling And Offset</text><circle class="q2" cx="984" cy="515.3" r="1.6"/><text x="989" y="518">UV(2)</text><circle class="q2" cx="984" cy="525.7" r="1.6"/><text x="989" y="528.5">Tiling(2)</text><circle class="q2" cx="984" cy="536" r="1.6"/><text x="989" y="539">Offset(2)</text><text class="r" x="1035" y="518">Out(2)</text><circle class="p2" cx="1039.7" cy="515" r="1.8"/><use href="#ch" x="1012" y="546.2"/>
<rect class="dd" x="943" y="511.5" width="24" height="7"/><text class="wh" x="948" y="517">UV0</text><use href="#tri" x="962.5" y="515"/><rect class="k" x="967" y="511.5" width="9" height="7"/><circle class="p2" cx="972" cy="515" r=".6"/><path class="dt d2" d="M976 515H982"/>
<rect class="k" x="923.5" y="521.7" width="9" height="8"/><text class="c" x="928" y="527.7">X</text><rect class="d" x="932.5" y="521.7" width="12" height="8"/><text x="934.5" y="527.7">2</text><rect class="k" x="944.5" y="521.7" width="9" height="8"/><text class="c" x="949" y="527.7">Y</text><rect class="d" x="953.5" y="521.7" width="13" height="8"/><text x="955" y="527.7">2</text><rect class="k" x="966.5" y="521.7" width="9.5" height="8"/><circle class="p2" cx="972" cy="525.7" r=".6"/><path class="dt d2" d="M976 525.7H982"/>
<rect class="k" x="923.5" y="532" width="9" height="8"/><text class="c" x="928" y="538">X</text><rect class="d" x="932.5" y="532" width="12" height="8"/><text x="934.5" y="538">0</text><rect class="k" x="944.5" y="532" width="9" height="8"/><text class="c" x="949" y="538">Y</text><rect class="d" x="953.5" y="532" width="13" height="8"/><text x="955" y="538">0</text><rect class="k" x="966.5" y="532" width="9.5" height="8"/><circle class="p2" cx="972" cy="536" r=".6"/><path class="dt d2" d="M976 536H982"/></g>
<g id="glitchtex"><rect class="pill" x="1043.3" y="635.7" width="55.4" height="10" rx="5"/><circle class="p2" cx="1047.5" cy="640.7" r=".8"/><text x="1054" y="643">GlitchTex(T2)</text><circle class="pt" cx="1090.7" cy="640.7" r="1.8"/></g>
<g id="glitch"><rect class="b" x="1107.3" y="622.3" width="124" height="67.7" rx="2"/><rect class="h" x="1107.3" y="622.3" width="124" height="15.4" rx="2"/><rect class="i" x="1107.3" y="637.7" width="57" height="45.6"/><rect class="f" x="1107.3" y="683.3" width="124" height="6.7" rx="2"/><text class="ti" x="1111" y="632.5">DamageEffect_Glitch</text><circle class="pt" cx="1112.3" cy="645.3" r="1.8"/><text x="1118" y="648">GlitchTex(T2)</text><circle class="p1" cx="1112.3" cy="655.7" r="1.8"/><text x="1118" y="658.5">DamageRange(1)</text>
<text class="r" x="1221" y="648">outputColor(3)</text><circle class="p3" cx="1226" cy="645.3" r="1.8"/><text class="r" x="1221" y="658.5">mask(1)</text><circle class="p1" cx="1226" cy="655.7" r="1.8"/><text class="r" x="1221" y="669">blocks(1)</text><circle class="p1" cx="1226" cy="666" r="1.8"/><text class="r" x="1221" y="679">damageEffectArea(1)</text><circle class="p1" cx="1226" cy="676.3" r="1.8"/><use href="#ch" x="1169.3" y="686.7"/></g>
<g id="damagerange"><rect class="pill" x="1029.3" y="698" width="65.7" height="10" rx="5"/><circle class="p2" cx="1034" cy="703" r=".8"/><text x="1039" y="706">DamageRange(1)</text><circle class="p1" cx="1087" cy="703" r="1.8"/></g>
<g id="add"><rect class="b" x="1253" y="642.3" width="54.7" height="47" rx="2"/><rect class="h" x="1253" y="642.3" width="54.7" height="15.4" rx="2"/><rect class="i" x="1253" y="657.7" width="24.3" height="25"/><rect class="f" x="1253" y="682.7" width="54.7" height="6.6" rx="2"/><text class="ti" x="1256" y="652">Add</text><circle class="p1" cx="1258" cy="665.3" r="1.8"/><text x="1263" y="668">A(1)</text><circle class="p1" cx="1258" cy="675.7" r="1.8"/><text x="1263" y="678.5">B(1)</text><text class="r" x="1298" y="668">Out(1)</text><circle class="p1" cx="1302.7" cy="665" r="1.8"/><use href="#ch" x="1280.5" y="686"/></g>
<g id="lerp-damage"><rect class="b" x="1342" y="631" width="54.7" height="57.7" rx="2"/><rect class="h" x="1342" y="631" width="54.7" height="15.3" rx="2"/><rect class="i" x="1342" y="646.3" width="24.3" height="35.7"/><rect class="f" x="1342" y="682" width="54.7" height="6.7" rx="2"/><text class="ti" x="1345" y="641">Lerp</text><circle class="p1" cx="1347" cy="653.7" r="1.8"/><text x="1352" y="657">A(1)</text><circle class="p1" cx="1347" cy="664" r="1.8"/><text x="1352" y="667">B(1)</text><circle class="p1" cx="1347" cy="674.3" r="1.8"/><text x="1352" y="677">T(1)</text><text class="r" x="1387" y="657">Out(1)</text><circle class="p1" cx="1391.7" cy="653.7" r="1.8"/><use href="#ch" x="1369.3" y="685.3"/></g>
<g id="step"><rect class="b" x="1249.7" y="702.3" width="63.3" height="47.4" rx="2"/><rect class="h" x="1249.7" y="702.3" width="63.3" height="15.4" rx="2"/><rect class="i" x="1249.7" y="717.7" width="32.6" height="25.3"/><rect class="f" x="1249.7" y="743" width="63.3" height="6.7" rx="2"/><text class="ti" x="1253" y="712">Step</text><circle class="q1" cx="1254.7" cy="725" r="1.6"/><text x="1260" y="728">Edge(1)</text><circle class="p1" cx="1254.7" cy="735.3" r="1.8"/><text x="1260" y="738">In(1)</text><text class="r" x="1303" y="728">Out(1)</text><circle class="p1" cx="1307.7" cy="725" r="1.8"/><use href="#ch" x="1281.3" y="746.3"/>
<rect class="k" x="1214.7" y="721" width="9" height="8"/><text class="c" x="1219.2" y="727">X</text><rect class="d" x="1223.7" y="721" width="13" height="8"/><text x="1225" y="727">0.1</text><rect class="k" x="1237" y="721" width="10" height="8"/><circle class="p1" cx="1243" cy="725" r=".6"/><path class="dt d1" d="M1247 725H1253"/></g>
<g id="lerp4"><rect class="b" x="1385" y="332.3" width="54.7" height="57" rx="2"/><rect class="h" x="1385" y="332.3" width="54.7" height="15" rx="2"/><rect class="i" x="1385" y="347.3" width="24.3" height="35.7"/><rect class="f" x="1385" y="383" width="54.7" height="6.3" rx="2"/><text class="ti" x="1388" y="341.5">Lerp</text><circle class="p4" cx="1390" cy="354.7" r="1.8"/><text x="1395" y="357.5">A(4)</text><circle class="p4" cx="1390" cy="365" r="1.8"/><text x="1395" y="368">B(4)</text><circle class="p4" cx="1390" cy="375.3" r="1.8"/><text x="1395" y="378">T(4)</text><text class="r" x="1430" y="357.5">Out(4)</text><circle class="p4" cx="1434.7" cy="354.7" r="1.8"/><use href="#ch" x="1412.5" y="386"/></g>
<g id="lerp1"><rect class="b" x="1382" y="399.7" width="54.7" height="57.3" rx="2"/><rect class="h" x="1382" y="399.7" width="54.7" height="15.3" rx="2"/><rect class="i" x="1382" y="415" width="24.3" height="35.3"/><rect class="f" x="1382" y="450.3" width="54.7" height="6.7" rx="2"/><text class="ti" x="1385" y="409">Lerp</text><circle class="q1" cx="1387" cy="422.7" r="1.6"/><text x="1392" y="425.5">A(1)</text><circle class="p1" cx="1387" cy="433" r="1.8"/><text x="1392" y="436">B(1)</text><circle class="p1" cx="1387" cy="443.3" r="1.8"/><text x="1392" y="446">T(1)</text><text class="r" x="1426.5" y="425.5">Out(1)</text><circle class="p1" cx="1431.7" cy="422.7" r="1.8"/><use href="#ch" x="1409.5" y="453.7"/>
<rect class="k" x="1346.7" y="419" width="9" height="7.5"/><text class="c" x="1351.2" y="425">X</text><rect class="d" x="1355.7" y="419" width="13" height="7.5"/><text x="1357.5" y="425">1</text><rect class="k" x="1369" y="419" width="10" height="7.5"/><circle class="p1" cx="1375" cy="422.7" r=".6"/><path class="dt d1" d="M1379 422.7H1385"/></g>
<g id="lerp3"><rect class="b" x="1494" y="306.3" width="54.3" height="57.4" rx="2"/><rect class="h" x="1494" y="306.3" width="54.3" height="15.4" rx="2"/><rect class="i" x="1494" y="321.7" width="24.3" height="35.3"/><rect class="f" x="1494" y="357" width="54.3" height="6.7" rx="2"/><text class="ti" x="1497" y="316">Lerp</text><circle class="p3" cx="1499" cy="329.3" r="1.8"/><text x="1504" y="332">A(3)</text><circle class="p3" cx="1499" cy="339.7" r="1.8"/><text x="1504" y="342.5">B(3)</text><circle class="p3" cx="1499" cy="350" r="1.8"/><text x="1504" y="353">T(3)</text><text class="r" x="1538.5" y="332">Out(3)</text><circle class="p3" cx="1543.3" cy="329" r="1.8"/><use href="#ch" x="1521.5" y="360.3"/></g>
<g id="fartint"><rect class="b" x="1569.3" y="340" width="96.7" height="47.3" rx="2"/><rect class="h" x="1569.3" y="340" width="96.7" height="15.3" rx="2"/><rect class="i" x="1569.3" y="355.3" width="53" height="25"/><rect class="f" x="1569.3" y="380.3" width="96.7" height="7" rx="2"/><text class="ti" x="1573" y="350">FarTintColor</text><circle class="p4" cx="1574.7" cy="363" r="1.8"/><text x="1580" y="366">OriginalColor(4)</text><circle class="p4" cx="1574.7" cy="373" r="1.8"/><text x="1580" y="376">FarTintColor(4)</text><text class="r" x="1656" y="366">TintColor(4)</text><circle class="p4" cx="1661" cy="362.7" r="1.8"/><use href="#ch" x="1617.7" y="384"/></g>
<g id="fartintprop"><rect class="pill" x="1496.7" y="374" width="59.3" height="10" rx="5"/><circle class="p2" cx="1501" cy="379" r=".8"/><text x="1506.7" y="382">FarTintColor(4)</text><circle class="p4" cx="1548" cy="379" r="1.8"/></g>
<g id="master"><rect class="i" x="1707.3" y="386.7" width="84.7" height="83.3" rx="2"/><rect class="h" x="1707.3" y="386.7" width="84.7" height="15.6" rx="2"/><text class="ti" x="1712" y="397">Unlit Master</text><circle class="q3" cx="1713.3" cy="410.3" r="1.6"/><text x="1719" y="413">Vertex Position(3)</text><circle class="q3" cx="1713.3" cy="421" r="1.6"/><text x="1719" y="424">Vertex Normal(3)</text><circle class="q3" cx="1713.3" cy="431" r="1.6"/><text x="1719" y="434">Vertex Tangent(3)</text><circle class="p3" cx="1713.3" cy="441.3" r="1.8"/><text x="1719" y="444">Color(3)</text><circle class="p1" cx="1713.3" cy="451.7" r="1.8"/><text x="1719" y="455">Alpha(1)</text><circle class="q1" cx="1713.3" cy="462.3" r="1.6"/><text x="1719" y="465">AlphaClipThreshold(1)</text><rect class="sel2" x="1707.3" y="386.7" width="84.7" height="83.3" rx="3"/>
<rect class="k" x="1660.3" y="407" width="46.5" height="7.5"/><text x="1664" y="413">Object Space</text><circle class="p3" cx="1702" cy="410.5" r=".6"/><path class="dt d3" d="M1706.7 410.5H1712"/><rect class="k" x="1660.3" y="417" width="46.5" height="7.5"/><text x="1664" y="423">Object Space</text><circle class="p3" cx="1702" cy="421" r=".6"/><path class="dt d3" d="M1706.7 421H1712"/><rect class="k" x="1660.3" y="427.5" width="46.5" height="7.5"/><text x="1664" y="433.2">Object Space</text><circle class="p3" cx="1702" cy="431" r=".6"/><path class="dt d3" d="M1706.7 431H1712"/>
<rect class="k" x="1673.3" y="458.5" width="9" height="7.5"/><text class="c" x="1677.8" y="464.3">X</text><rect class="d" x="1682.3" y="458.5" width="14" height="7.5"/><text x="1684" y="464.3">0.01</text><rect class="k" x="1696.3" y="458.5" width="10" height="7.5"/><circle class="p1" cx="1702" cy="462.3" r=".6"/><path class="dt d1" d="M1706.3 462.3H1712"/></g>
<g id="lerp2"><rect class="b" x="1456.7" y="510.3" width="54.6" height="57.4" rx="2"/><rect class="h" x="1456.7" y="510.3" width="54.6" height="15.4" rx="2"/><rect class="i" x="1456.7" y="525.7" width="24.3" height="35.3"/><rect class="f" x="1456.7" y="561" width="54.6" height="6.7" rx="2"/><text class="ti" x="1460" y="520">Lerp</text><circle class="p1" cx="1461.7" cy="533.3" r="1.8"/><text x="1467" y="536">A(1)</text><circle class="p1" cx="1461.7" cy="543.7" r="1.8"/><text x="1467" y="546.5">B(1)</text><circle class="p1" cx="1461.7" cy="554" r="1.8"/><text x="1467" y="557">T(1)</text><text class="r" x="1501.5" y="536">Out(1)</text><circle class="p1" cx="1506.3" cy="533" r="1.8"/><use href="#ch" x="1484" y="564.3"/></g>
<g id="dither"><rect class="b" x="1529" y="511" width="89" height="47" rx="2"/><rect class="h" x="1529" y="511" width="89" height="15.3" rx="2"/><rect class="i" x="1529" y="526.3" width="58.7" height="25"/><rect class="f" x="1529" y="551.3" width="89" height="6.7" rx="2"/><text class="ti" x="1532" y="521">Dither</text><circle class="p1" cx="1534" cy="533.7" r="1.8"/><text x="1539" y="536.5">In(1)</text><circle class="q4" cx="1534" cy="544" r="1.6"/><text x="1539" y="547">Screen Position(4)</text><text class="r" x="1608" y="536.5">Out(1)</text><circle class="p1" cx="1613" cy="533.7" r="1.8"/><use href="#ch" x="1573.5" y="555"/>
<rect class="k" x="1489" y="540.5" width="36" height="7" fill-opacity=".45"/><text x="1495" y="546" opacity=".45">Defau</text><use href="#tri" x="1513" y="544"/><rect class="k" x="1516" y="540.5" width="13" height="7"/><circle class="p4" cx="1522" cy="544" r=".6"/><path class="dt d4" d="M1526 544H1532"/></g>
</g>
</svg>
